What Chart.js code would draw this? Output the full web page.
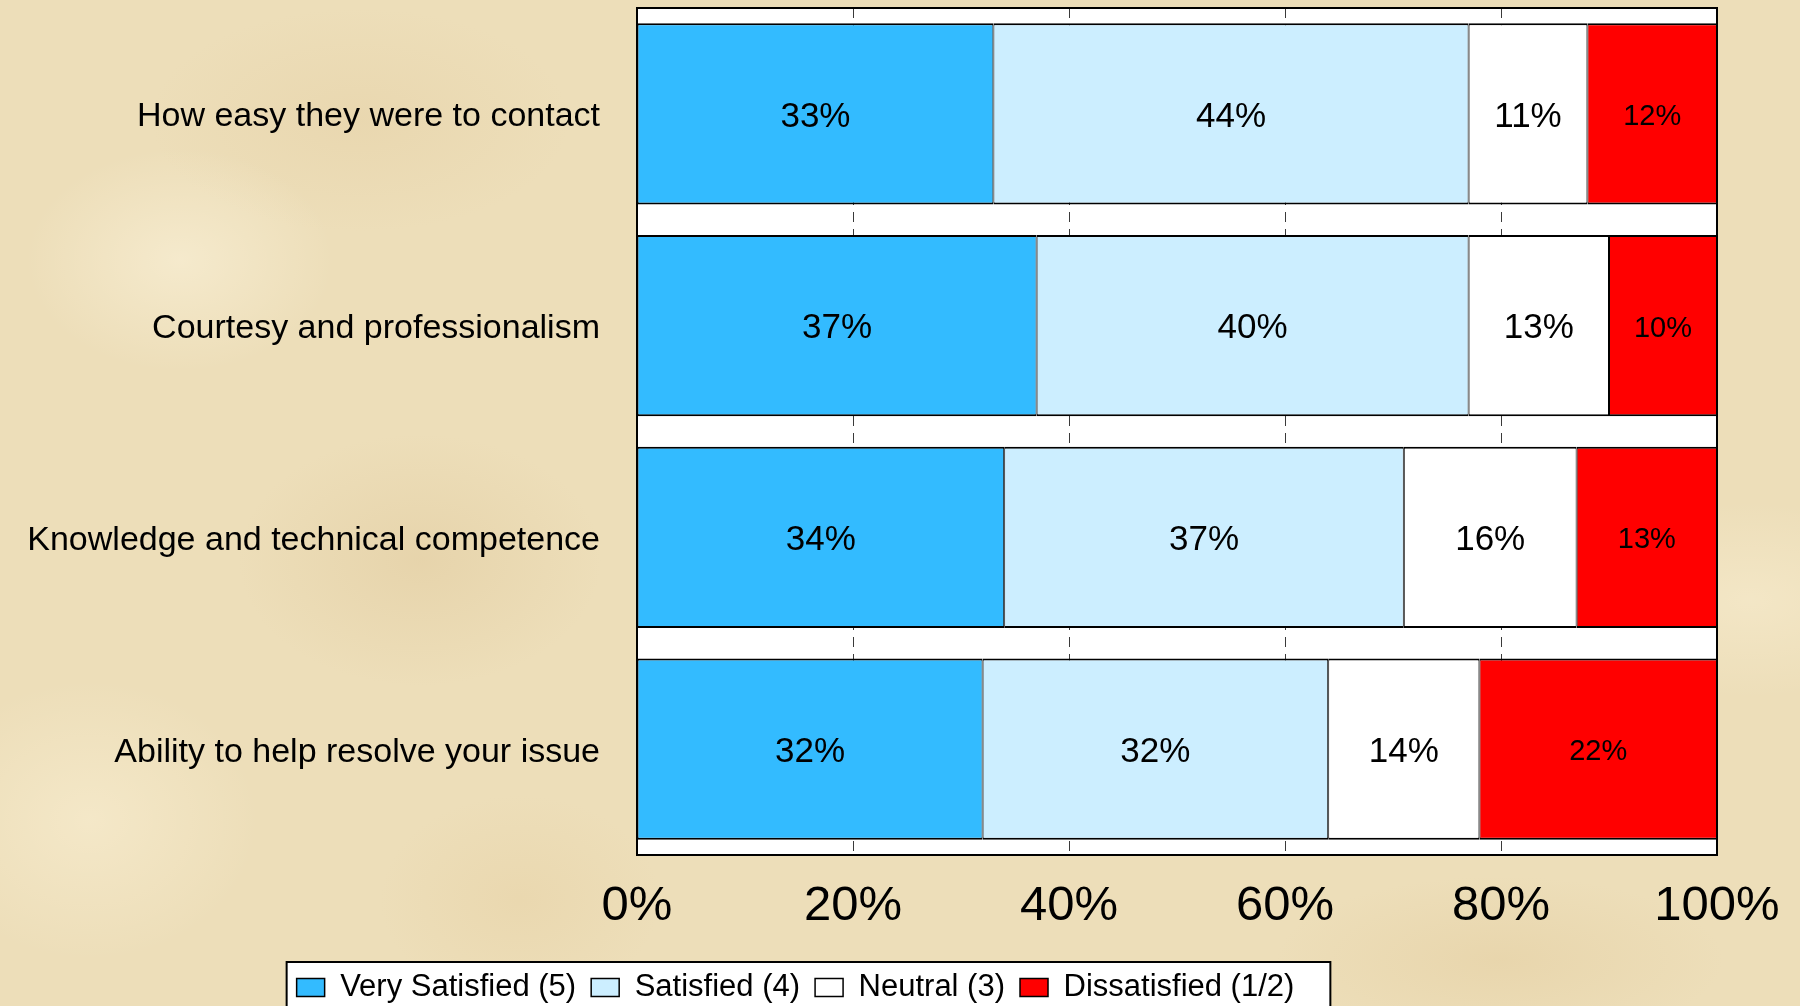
<!DOCTYPE html>
<html>
<head>
<meta charset="utf-8">
<script src="https://cdn.jsdelivr.net/npm/chart.js@4/dist/chart.umd.min.js"></script>
<style>
  html, body { margin: 0; padding: 0; }
  body {
    width: 1800px; height: 1006px; overflow: hidden;
    background-color: #eddeb9;
    background-image:
      radial-gradient(ellipse 220px 160px at 180px 260px, rgba(255,248,228,0.45), rgba(255,248,228,0) 70%),
      radial-gradient(ellipse 260px 180px at 420px 560px, rgba(214,186,136,0.28), rgba(214,186,136,0) 70%),
      radial-gradient(ellipse 240px 200px at 90px 820px, rgba(255,246,222,0.40), rgba(255,246,222,0) 70%),
      radial-gradient(ellipse 300px 160px at 360px 120px, rgba(222,196,148,0.26), rgba(222,196,148,0) 70%),
      radial-gradient(ellipse 260px 140px at 1750px 600px, rgba(255,246,222,0.35), rgba(255,246,222,0) 70%),
      radial-gradient(ellipse 320px 120px at 1500px 960px, rgba(220,192,140,0.28), rgba(220,192,140,0) 70%),
      radial-gradient(ellipse 200px 150px at 520px 900px, rgba(226,200,150,0.28), rgba(226,200,150,0) 70%);
  }
  canvas { display: block; }
</style>
</head>
<body>
<canvas id="chart" width="1800" height="1006"></canvas>
<script>
// Survey questions (one horizontal bar each)
const questions = [
  'How easy they were to contact',
  'Courtesy and professionalism',
  'Knowledge and technical competence',
  'Ability to help resolve your issue'
];

// Share of responses per rating, in percent
const verySatisfied = [33, 37, 34, 32];
const satisfied     = [44, 40, 37, 32];
const neutral       = [11, 13, 16, 14];
const dissatisfied  = [12, 10, 13, 22];

const seriesNames = ['Very Satisfied (5)', 'Satisfied (4)', 'Neutral (3)', 'Dissatisfied (1/2)'];
const xTicks = [0, 20, 40, 60, 80, 100];

const FONT = "'Liberation Sans', Arial, Helvetica, sans-serif";
Chart.defaults.font.family = FONT;
Chart.defaults.color = '#000000';

const PLOT_BOTTOM = 855;
const LEGEND_FRAME_TOP = 962;

const segBorder = { top: 2, bottom: 2, left: 1, right: 1 };

function makeSet(label, data, color) {
  return {
    label: label,
    data: data,
    backgroundColor: color,
    borderColor: '#000000',
    borderWidth: segBorder,
    borderSkipped: false,
    categoryPercentage: 1.0,
    barPercentage: 0.855
  };
}

// White plot area, legend frame, value labels and plot border
const framePlugin = {
  id: 'frames',
  afterLayout(chart) {
    const lg = chart.legend;
    const h = lg.height;
    lg.left = 0; lg.right = 1591; lg.width = 1591;
    lg.top = 957; lg.bottom = lg.top + h;
  },
  beforeDraw(chart) {
    const ctx = chart.ctx;
    const a = chart.chartArea;
    ctx.save();
    ctx.fillStyle = '#ffffff';
    ctx.fillRect(a.left, a.top, a.right - a.left, a.bottom - a.top);
    const hb = chart.legend.legendHitBoxes;
    if (hb && hb.length) {
      const first = hb[0], last = hb[hb.length - 1];
      const l = first.left - 10;
      const r = last.left + last.width + 36;
      ctx.fillRect(l, LEGEND_FRAME_TOP, r - l, 60);
      ctx.strokeStyle = '#000000';
      ctx.lineWidth = 2;
      ctx.strokeRect(l, LEGEND_FRAME_TOP, r - l, 60);
    }
    ctx.restore();
  },
  afterDatasetsDraw(chart) {
    const ctx = chart.ctx;
    const a = chart.chartArea;
    ctx.save();
    ctx.fillStyle = '#000000';
    ctx.textAlign = 'center';
    ctx.textBaseline = 'middle';
    chart.data.datasets.forEach((ds, di) => {
      const meta = chart.getDatasetMeta(di);
      ctx.font = (di === 3 ? '29px ' : '35px ') + FONT;
      meta.data.forEach((el, i) => {
        const cx = (el.x + el.base) / 2;
        ctx.fillText(ds.data[i] + '%', cx, el.y + 3);
      });
    });
    ctx.strokeStyle = '#000000';
    ctx.lineWidth = 2;
    ctx.strokeRect(a.left, a.top, a.right - a.left, a.bottom - a.top);
    ctx.restore();
  }
};

new Chart(document.getElementById('chart'), {
  type: 'bar',
  data: {
    labels: questions,
    datasets: [
      makeSet(seriesNames[0], verySatisfied, '#33bbff'),
      makeSet(seriesNames[1], satisfied, '#cceeff'),
      makeSet(seriesNames[2], neutral, '#ffffff'),
      makeSet(seriesNames[3], dissatisfied, '#ff0000')
    ]
  },
  options: {
    indexAxis: 'y',
    responsive: false,
    devicePixelRatio: 1,
    animation: false,
    layout: { padding: { top: 8, right: 83, left: 0, bottom: 0 } },
    scales: {
      x: {
        stacked: true,
        min: xTicks[0],
        max: xTicks[xTicks.length - 1],
        afterBuildTicks(scale) { scale.ticks = xTicks.map(v => ({ value: v })); },
        afterFit(scale) {
          scale.height = scale.chart.height - scale.chart.legend.height - PLOT_BOTTOM;
          scale.paddingLeft = 0;
          scale.paddingRight = 0;
        },
        grid: { color: '#3a3a3a', lineWidth: 1, drawTicks: false },
        border: { display: false, dash: [10, 7] },
        ticks: {
          padding: 22,
          font: { size: 49 },
          color: '#000000',
          callback: v => v + '%'
        }
      },
      y: {
        stacked: true,
        afterFit(scale) {
          scale.width = 637;
          scale.paddingTop = 0;
          scale.paddingBottom = 0;
        },
        grid: { display: false, drawTicks: false },
        border: { display: false },
        ticks: {
          padding: 37,
          labelOffset: 3,
          font: { size: 34 },
          color: '#000000'
        }
      }
    },
    plugins: {
      legend: {
        position: 'bottom',
        labels: {
          boxWidth: 28,
          boxHeight: 18,
          padding: 15,
          font: { size: 31 },
          color: '#000000'
        }
      },
      tooltip: { enabled: false }
    }
  },
  plugins: [framePlugin]
});
</script>
</body>
</html>
